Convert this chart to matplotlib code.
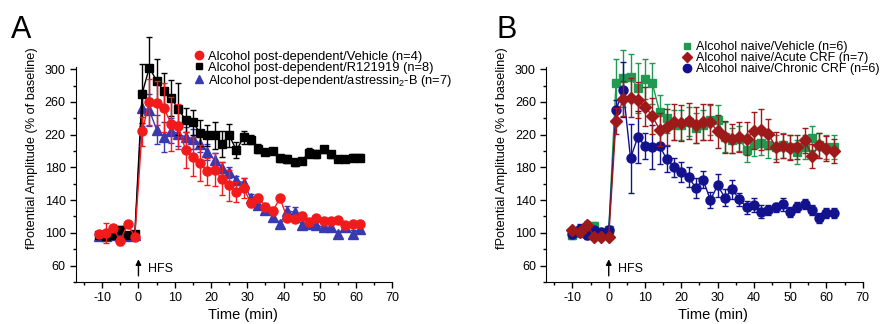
import matplotlib
matplotlib.use("Agg")
import matplotlib.pyplot as plt
from matplotlib.lines import Line2D
from matplotlib.ticker import MultipleLocator

plt.rcParams["font.family"] = ["Liberation Sans", "DejaVu Sans"]
plt.rcParams["mathtext.fontset"] = "custom"
plt.rcParams["mathtext.rm"] = "Liberation Sans"
plt.rcParams["mathtext.it"] = "Liberation Sans:italic"
plt.rcParams["axes.unicode_minus"] = False

# Panel A: alcohol post-dependent groups (time in min)
time_a = [-11, -9, -7, -5, -3, -1,
          1, 3, 5, 7, 9, 11, 13, 15, 17, 19, 21, 23, 25, 27, 29, 31,
          33, 35, 37, 39, 41, 43, 45, 47, 49, 51, 53, 55, 57, 59, 61]

vehicle_a = [98, 100, 106, 90, 111, 95,
             224, 260, 259, 253, 233, 230, 201, 193, 185, 175, 177,
             166, 158, 150, 155, 136, 143, 132, 127, 142,
             118, 117, 121, 113, 118, 115, 115, 116, 109, 111, 111]
vehicle_a_err = [3, 12, 4, 5, 4, 3,
                 18, 28, 27, 30, 33, 27, 22, 24, 22, 16, 20,
                 20, 19, 12, 12, 5, 4, 4, 4, 4,
                 4, 4, 4, 3, 3, 3, 3, 3, 3, 3, 3]

r121919_a = [97, 96, 97, 104, 97, 99,
             270, 302, 286, 273, 265, 251, 238, 235, 222, 219, 219,
             209, 219, 201, 217, 214, 203, 199, 200, 191,
             190, 186, 188, 198, 196, 202, 196, 190, 190, 192, 192]
r121919_a_err = [3, 3, 3, 4, 3, 3,
                 36, 37, 26, 22, 22, 32, 15, 15, 16, 13, 17,
                 16, 14, 10, 8, 5, 5, 4, 4, 4,
                 5, 4, 4, 6, 5, 4, 4, 4, 4, 4, 4]

astressin_a = [96, 96, 97, 96, 96, 97,
               253, 250, 226, 217, 225, 221, 217, 215, 209, 199, 189,
               179, 174, 164, 161, 142, 134, 128, 119, 111,
               127, 125, 109, 111, 109, 107, 107, 98, 107, 99, 105]
astressin_a_err = [3, 3, 3, 3, 3, 3,
                   22, 20, 18, 18, 15, 15, 12, 12, 10, 10, 8,
                   8, 7, 6, 6, 5, 5, 5, 4, 4,
                   6, 6, 4, 4, 4, 4, 4, 4, 4, 4, 4]

# Panel B: alcohol naive groups
time_b = [-10, -8, -6, -4, -2, 0,
          2, 4, 6, 8, 10, 12, 14, 16, 18, 20, 22, 24, 26, 28, 30, 32,
          34, 36, 38, 40, 42, 44, 46, 48, 50, 52, 54, 56, 58, 60, 62]

vehicle_b = [97, 100, 105, 108, 101, 103,
             283, 289, 290, 277, 288, 283, 248, 240, 232, 232, 236,
             228, 232, 238, 238, 217, 213, 215, 201, 209,
             210, 207, 205, 207, 205, 199, 205, 216, 207, 205, 205]
vehicle_b_err = [4, 4, 6, 5, 4, 5,
                 30, 35, 29, 30, 25, 25, 20, 18, 18, 18, 18,
                 18, 18, 18, 18, 18, 15, 15, 15, 15,
                 15, 15, 15, 15, 15, 15, 15, 15, 15, 15, 15]

acute_b = [103, 101, 110, 95, 95, 95,
           237, 264, 265, 262, 254, 243, 226, 229, 235, 234, 237,
           232, 236, 235, 224, 217, 215, 217, 215, 225,
           226, 221, 205, 206, 204, 205, 213, 194, 207, 203, 200]
acute_b_err = [4, 5, 5, 3, 3, 3,
               16, 21, 24, 22, 24, 22, 20, 22, 22, 22, 22,
               22, 22, 22, 20, 20, 18, 18, 20, 23,
               25, 18, 18, 15, 15, 15, 15, 15, 15, 15, 15]

chronic_b = [98, 105, 97, 103, 101, 103,
             250, 275, 191, 217, 206, 205, 206, 190, 180, 174, 168,
             155, 165, 140, 158, 143, 153, 141, 131, 134,
             126, 128, 131, 135, 125, 132, 135, 128, 118, 124, 124]
chronic_b_err = [4, 6, 5, 4, 4, 5,
                 12, 34, 42, 32, 16, 27, 22, 16, 12, 12, 12,
                 12, 10, 10, 14, 10, 12, 8, 8, 8,
                 8, 6, 6, 8, 6, 6, 6, 6, 6, 6, 6]

fig = plt.figure(figsize=(8.84, 3.24), dpi=100)
ax_a = fig.add_axes([0.086, 0.130, 0.358, 0.664])
ax_b = fig.add_axes([0.618, 0.130, 0.358, 0.664])


def series(ax, x, y, err, color, marker, ms, label, z):
    ax.errorbar(x, y, yerr=err, color=color, marker=marker, ms=ms,
                mec=color, lw=1, elinewidth=1, capsize=2.5,
                capthick=1, zorder=z, clip_on=False)
    # legend entry shows only the marker
    return Line2D([], [], color=color, marker=marker, ms=ms - 0.5,
                  ls="none", label=label)


def style(ax):
    ax.set_xlim(-17.2, 70)
    ax.set_ylim(40, 303)
    ax.spines["top"].set_visible(False)
    ax.spines["right"].set_visible(False)
    ax.xaxis.set_major_locator(MultipleLocator(10))
    ax.xaxis.set_minor_locator(MultipleLocator(5))
    ax.set_yticks([60, 100, 140, 180, 220, 260, 300])
    ax.yaxis.set_minor_locator(MultipleLocator(20))
    ax.set_xticks(range(-10, 71, 10))
    ax.tick_params(which="major", length=4, width=1, labelsize=9)
    ax.tick_params(which="minor", length=2, width=1)
    ax.set_xlabel("Time (min)", fontsize=10.5)
    ax.set_ylabel("fPotential Amplitude (% of baseline)", fontsize=9.2)
    ax.xaxis.set_label_coords(0.527, -0.122)
    ax.yaxis.set_label_coords(-0.12, 0.62)
    # HFS arrow at time 0
    ax.annotate("", xy=(0, 71), xytext=(0, 44),
                arrowprops=dict(arrowstyle="-|>", color="black", lw=1,
                                mutation_scale=8))
    ax.text(2.6, 56, "HFS", fontsize=9, va="center", ha="left")


def legend(ax, handles, anchor, size):
    ax.legend(handles=handles, loc="upper left", bbox_to_anchor=anchor,
              frameon=False, fontsize=size, labelspacing=-0.08,
              handlelength=0.7, handletextpad=0.35,
              borderpad=0, borderaxespad=0)


# Panel A
h_blue = series(ax_a, time_a, astressin_a, astressin_a_err, "#3a3ab0", "^", 6.5,
                r"Alcohol post-dependent/astressin$_2$-B (n=7)", 3)
h_black = series(ax_a, time_a, r121919_a, r121919_a_err, "black", "s", 5.5,
                 "Alcohol post-dependent/R121919 (n=8)", 4)
h_red = series(ax_a, time_a, vehicle_a, vehicle_a_err, "#f21b1b", "o", 6.5,
               "Alcohol post-dependent/Vehicle (n=4)", 5)
style(ax_a)
legend(ax_a, [h_red, h_black, h_blue], (0.375, 1.075), 9.3)

# Panel B
h_green = series(ax_b, time_b, vehicle_b, vehicle_b_err, "#1f9a50", "s", 5.5,
                 "Alcohol naive/Vehicle (n=6)", 3)
h_navy = series(ax_b, time_b, chronic_b, chronic_b_err, "#12128f", "o", 6.5,
                "Alcohol naive/Chronic CRF (n=6)", 4)
h_dred = series(ax_b, time_b, acute_b, acute_b_err, "#9e1a1a", "D", 6,
                "Alcohol naive/Acute CRF (n=7)", 5)
style(ax_b)
legend(ax_b, [h_green, h_dred, h_navy], (0.43, 1.12), 9)

fig.text(0.012, 0.955, "A", fontsize=22, va="top", ha="left")
fig.text(0.562, 0.955, "B", fontsize=22, va="top", ha="left")

fig.savefig("out.png", dpi=100)
